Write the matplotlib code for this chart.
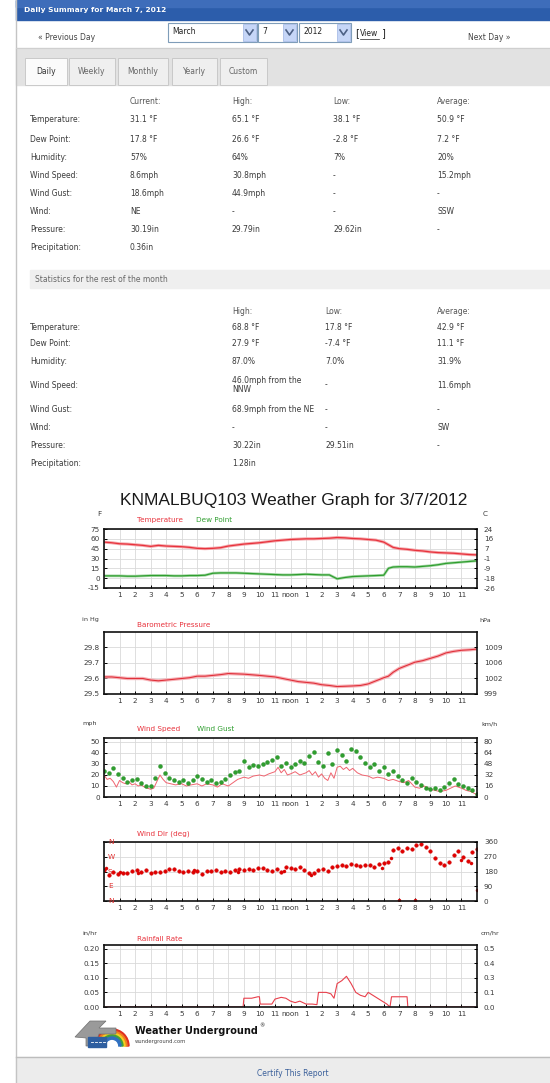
import matplotlib
matplotlib.use('Agg')
import matplotlib.pyplot as plt
from matplotlib.patches import Rectangle, Polygon, Wedge
import numpy as np

plt.rcParams['font.family'] = ['DejaVu Sans']

# ---------------- data ----------------
hour_ticks = list(range(1, 24))
hour_labels = ['1', '2', '3', '4', '5', '6', '7', '8', '9', '10', '11', 'noon',
               '1', '2', '3', '4', '5', '6', '7', '8', '9', '10', '11']

t_hours = [0, 0.5, 1, 1.5, 2, 2.5, 3, 3.5, 4, 4.5,
           5, 5.5, 6, 6.5, 7, 7.5, 8, 8.5, 9, 9.5,
           10, 10.5, 11, 11.5, 12, 12.5, 13, 13.5, 14, 14.5,
           15, 15.5, 16, 16.5, 17, 17.5, 18, 18.3, 18.6, 19,
           19.5, 20, 20.5, 21, 21.5, 22, 22.5, 23, 23.5, 24]
temperature = [55, 54, 52.5, 52, 51, 50, 48.5, 50, 49, 48.5,
               48, 47, 45.5, 45, 45.5, 46.5, 49, 50.5, 52, 53,
               54, 55.5, 57, 58, 59, 59.5, 60, 60, 60.5, 61,
               62, 61.5, 60.5, 60, 59, 58, 55, 51, 47, 45,
               44, 42.5, 41.5, 40, 39, 38.5, 38, 37, 36, 35.5]
dew_point = [3.5, 3.5, 3.5, 3, 3, 3.5, 4, 4, 4, 3.5,
             3.5, 4, 4, 4.5, 7.5, 8, 8, 8, 7.5, 7,
             6.5, 6, 5.5, 5, 5, 5.5, 6, 5.5, 5, 5,
             -1, 1, 2.5, 3, 3.5, 4, 4.5, 15, 17, 17.5,
             17.5, 17, 18, 19, 20.5, 22.5, 23.5, 24.5, 25.5, 26.5]
pressure = [29.61, 29.61, 29.605, 29.60, 29.60, 29.60, 29.59, 29.585, 29.59, 29.595,
            29.60, 29.605, 29.615, 29.615, 29.62, 29.625, 29.632, 29.63, 29.628, 29.624,
            29.62, 29.615, 29.61, 29.60, 29.59, 29.58, 29.575, 29.57, 29.56, 29.555,
            29.548, 29.55, 29.552, 29.555, 29.565, 29.585, 29.605, 29.615, 29.64, 29.665,
            29.685, 29.705, 29.715, 29.73, 29.745, 29.765, 29.775, 29.782, 29.785, 29.79]

ws_hours = [0, 0.2, 0.4, 0.6, 0.8, 1.0, 1.2, 1.4, 1.6, 1.8,
            2.0, 2.2, 2.4, 2.6, 2.8, 3.0, 3.2, 3.4, 3.6, 3.8,
            4.0, 4.3, 4.6, 5.0, 5.3, 5.6, 6.0, 6.3, 6.6, 7.0,
            7.3, 7.6, 8.0, 8.3, 8.6, 9.0, 9.3, 9.6, 10.0, 10.3,
            10.6, 11.0, 11.2, 11.4, 11.6, 11.8, 12.0, 12.3, 12.6, 13.0,
            13.2, 13.4, 13.6, 13.8, 14.0, 14.2, 14.4, 14.6, 14.8, 15.0,
            15.2, 15.4, 15.6, 15.8, 16.0, 16.3, 16.6, 17.0, 17.3, 17.6,
            18.0, 18.3, 18.6, 19.0, 19.3, 19.6, 20.0, 20.3, 20.6, 21.0,
            21.3, 21.6, 22.0, 22.3, 22.6, 23.0, 23.3, 23.6, 24.0]
wind_speed = [20, 16, 17, 14, 9, 15, 13, 12, 14, 11,
              12, 10, 11, 9, 8, 7, 8, 14, 20, 16,
              13, 12, 11, 12, 10, 11, 12, 10, 12, 11,
              9, 12, 10, 13, 16, 18, 17, 19, 20, 19,
              21, 23, 27, 22, 25, 20, 21, 23, 20, 22,
              24, 20, 23, 18, 21, 17, 15, 22, 17, 27,
              28, 25, 27, 24, 26, 22, 20, 19, 17, 18,
              17, 15, 16, 14, 13, 15, 9, 8, 10, 7,
              6, 5, 6, 8, 10, 8, 6, 5, 2]

g_hours = [0.0, 0.3, 0.6, 0.9, 1.2, 1.5, 1.8, 2.1, 2.4, 2.7,
           3.0, 3.3, 3.6, 3.9, 4.2, 4.5, 4.8, 5.1, 5.4, 5.7,
           6.0, 6.3, 6.6, 6.9, 7.2, 7.5, 7.8, 8.1, 8.4, 8.7,
           9.0, 9.3, 9.6, 9.9, 10.2, 10.5, 10.8, 11.1, 11.4, 11.7,
           12.0, 12.3, 12.6, 12.9, 13.2, 13.5, 13.8, 14.1, 14.4, 14.7,
           15.0, 15.3, 15.6, 15.9, 16.2, 16.5, 16.8, 17.1, 17.4, 17.7,
           18.0, 18.3, 18.6, 18.9, 19.2, 19.5, 19.8, 20.1, 20.4, 20.7,
           21.0, 21.3, 21.6, 21.9, 22.2, 22.5, 22.8, 23.1, 23.4, 23.7,
           24.0]
wind_gust = [24, 22, 26, 21, 17, 14, 15, 16, 13, 10,
             10, 17, 28, 22, 17, 15, 14, 15, 13, 15,
             19, 16, 14, 15, 13, 14, 16, 20, 23, 24,
             33, 27, 29, 28, 30, 32, 34, 36, 28, 31,
             27, 30, 33, 31, 37, 41, 32, 28, 40, 30,
             43, 38, 33, 44, 42, 36, 31, 27, 30, 24,
             27, 21, 24, 19, 15, 13, 17, 14, 11, 8,
             7, 8, 6, 9, 13, 16, 12, 10, 8, 6,
             3]
wind_dir = [187, 160, 177, 165, 170, 168, 183, 187, 178, 190,
            173, 176, 180, 184, 195, 198, 182, 180, 185, 178,
            184, 165, 186, 183, 188, 178, 186, 180, 190, 193,
            188, 198, 192, 203, 200, 190, 185, 198, 176, 205,
            200, 196, 208, 192, 168, 172, 190, 196, 184, 205,
            216, 222, 212, 226, 220, 214, 218, 222, 210, 226,
            230, 240, 312, 322, 305, 325, 318, 340, 348, 330,
            305, 262, 232, 218, 240, 280, 305, 270, 245, 300,
            320]
dir_extra_hours = [0.15, 1.0, 2.2, 5.8, 8.6, 11.6, 13.3, 17.9, 18.45, 19.0, 20.0, 23.0, 23.6, 24.0]
dir_extra_deg = [200, 176, 172, 190, 178, 182, 160, 200, 265, 4, 4, 250, 232, 70]

rain_hours = [0, 8.95, 9.0, 9.5, 9.9, 10.0, 10.05, 10.8, 11.0, 11.4,
              11.7, 12.0, 12.3, 12.6, 13.0, 13.4, 13.7, 13.8, 14.3, 14.6,
              14.8, 15.0, 15.3, 15.6, 15.9, 16.2, 16.5, 16.8, 17.0, 17.3,
              17.6, 17.9, 18.2, 18.4, 18.5, 19.5, 19.55, 24]
rain_rate = [0, 0, 0.03, 0.03, 0.035, 0.035, 0.01, 0.01, 0.027, 0.033,
             0.03, 0.02, 0.015, 0.02, 0.01, 0.01, 0.008, 0.05, 0.05, 0.045,
             0.03, 0.08, 0.09, 0.105, 0.08, 0.05, 0.04, 0.035, 0.05, 0.04,
             0.03, 0.02, 0.01, 0, 0.035, 0.035, 0, 0]

temp_ticks = [75, 60, 45, 30, 15, 0, -15]
temp_right = ['24', '16', '7', '-1', '-9', '-18', '-26']
pres_ticks = [29.8, 29.7, 29.6, 29.5]
pres_right = ['1009', '1006', '1002', '999']
wind_ticks = [50, 40, 30, 20, 10, 0]
wind_right = ['80', '64', '48', '32', '16', '0']
dir_ticks = [360, 270, 180, 90, 0]
dir_right = ['360', '270', '180', '90', '0']
dir_left = ['N', 'W', 'S', 'E', 'N']
rain_ticks = [0.20, 0.15, 0.10, 0.05, 0.00]
rain_right = ['0.5', '0.4', '0.3', '0.1', '0.0']

t1_header = ['Current:', 'High:', 'Low:', 'Average:']
t1_labels = ['Temperature:', 'Dew Point:', 'Humidity:', 'Wind Speed:', 'Wind Gust:',
             'Wind:', 'Pressure:', 'Precipitation:']
t1_current = ['31.1 °F', '17.8 °F', '57%', '8.6mph', '18.6mph', 'NE', '30.19in', '0.36in']
t1_high = ['65.1 °F', '26.6 °F', '64%', '30.8mph', '44.9mph', '-', '29.79in', '']
t1_low = ['38.1 °F', '-2.8 °F', '7%', '-', '-', '-', '29.62in', '']
t1_avg = ['50.9 °F', '7.2 °F', '20%', '15.2mph', '-', 'SSW', '-', '']

t2_header = ['High:', 'Low:', 'Average:']
t2_high = ['68.8 °F', '27.9 °F', '87.0%', '46.0mph from the\nNNW', '68.9mph from the NE',
           '-', '30.22in', '1.28in']
t2_low = ['17.8 °F', '-7.4 °F', '7.0%', '-', '-', '-', '29.51in', '']
t2_avg = ['42.9 °F', '11.1 °F', '31.9%', '11.6mph', '-', 'SW', '-', '']

# ---------------- figure ----------------
W, H = 550, 1083
fig = plt.figure(figsize=(5.5, 10.83), dpi=100)
bg = fig.add_axes([0, 0, 1, 1])
bg.set_xlim(0, W)
bg.set_ylim(H, 0)
bg.axis('off')

TXT = '#3a3a3a'
FS = 5.5


def T(x, y, s, **kw):
    d = dict(va='center', ha='left', fontsize=FS, color=TXT)
    d.update(kw)
    bg.text(x, y, s, **d)


# page border
bg.plot([16, 16], [0, H], color='#c4c4c4', lw=1)

# header bar
bg.add_patch(Rectangle((16, 0), 534, 20, color='#2c5dab'))
bg.add_patch(Rectangle((16, 0), 534, 7, color='#3e6dba'))
T(24, 10, 'Daily Summary for March 7, 2012', color='white', fontweight='bold', fontsize=5.4)

# navigation row
T(38, 38, '« Previous Day', color='#444444')
T(468, 38, 'Next Day »', color='#444444')
for (x0, x1, label) in [(168, 257, 'March'), (258, 297, '7'), (299, 351, '2012')]:
    bg.add_patch(Rectangle((x0, 23), x1 - x0, 19, facecolor='white', edgecolor='#7f9db9', lw=0.8))
    bg.add_patch(Rectangle((x1 - 14, 24), 13, 17, facecolor='#c6d6f7', edgecolor='#a9bde8', lw=0.6))
    bg.plot([x1 - 11, x1 - 7.5, x1 - 4], [30, 35, 30], color='#4d6185', lw=1.2)
    T(x0 + 4, 32, label, color='#222222')
T(355, 33, '[', color='#222222', fontsize=7)
T(360, 34, 'View', color='#222222')
bg.plot([360, 379], [38.5, 38.5], color='#222222', lw=0.5)
T(381, 33, ']', color='#222222', fontsize=7)

# tab band
bg.add_patch(Rectangle((16, 48), 534, 37, color='#e2e2e2'))
bg.plot([16, 550], [48, 48], color='#cfcfcf', lw=0.8)
tabs = [(25, 67, 'Daily'), (69, 115, 'Weekly'), (118, 168, 'Monthly'), (172, 217, 'Yearly'), (220, 267, 'Custom')]
for i, (x0, x1, lab) in enumerate(tabs):
    fc = '#fbfbfb' if i == 0 else '#efefef'
    bg.add_patch(Rectangle((x0, 58), x1 - x0, 27, facecolor=fc, edgecolor='#c9c9c9', lw=0.7))
    T((x0 + x1) / 2, 72, lab, ha='center', color='#333333' if i == 0 else '#666666')

# table 1
c1 = [130, 232, 333, 437]
for x, h in zip(c1, t1_header):
    T(x, 102, h, color='#555555')
rows1 = [120, 139, 157, 176, 194, 212, 230, 247]
for i, y in enumerate(rows1):
    T(30, y, t1_labels[i])
    for x, col in zip(c1, [t1_current, t1_high, t1_low, t1_avg]):
        if col[i]:
            T(x, y, col[i])

# statistics band
bg.add_patch(Rectangle((30, 270), 520, 18, color='#efefef'))
T(35, 279, 'Statistics for the rest of the month', color='#666666')
c2 = [232, 325, 437]
for x, h in zip(c2, t2_header):
    T(x, 312, h, color='#555555')
rows2 = [327, 344, 362, 385, 410, 428, 446, 464]
for i, y in enumerate(rows2):
    T(30, y, t1_labels[i])
    for x, col in zip(c2, [t2_high, t2_low, t2_avg]):
        if col[i]:
            T(x, y, col[i], linespacing=1.05)

# graph title
bg.text(294, 500, 'KNMALBUQ103 Weather Graph for 3/7/2012', ha='center', va='center',
        fontsize=12.5, color='#1a1a1a', family='Liberation Sans')

RED = '#e8323c'
GREEN = '#2f9e2f'
GFS = 5.2


def panel(y0, y1, ylim, ticks, left_labels, right_labels):
    ax = fig.add_axes([104 / W, 1 - y1 / H, (477 - 104) / W, (y1 - y0) / H])
    ax.set_xlim(0, 24)
    ax.set_ylim(*ylim)
    ax.set_xticks(list(range(0, 25)), minor=True)
    ax.set_xticks(hour_ticks)
    ax.set_xticklabels(hour_labels, fontsize=GFS, color=TXT)
    ax.set_yticks(ticks)
    if left_labels is None:
        ax.set_yticklabels([])
    else:
        ax.set_yticklabels(left_labels, fontsize=GFS, color=TXT)
    ax.grid(True, which='both', axis='x', color='#d9d9d9', lw=0.6)
    ax.grid(True, which='major', axis='y', color='#d9d9d9', lw=0.6)
    ax.tick_params(axis='both', which='major', direction='in', length=2.5, width=0.7, pad=3)
    ax.tick_params(axis='x', which='minor', length=0)
    for s in ax.spines.values():
        s.set_color('#111111')
        s.set_linewidth(1.2)
    ax2 = ax.twinx()
    ax2.set_ylim(*ylim)
    ax2.set_yticks(ticks)
    ax2.set_yticklabels(right_labels, fontsize=GFS, color=TXT)
    ax2.tick_params(axis='y', direction='in', length=2.5, width=0.7, pad=5)
    for s in ax2.spines.values():
        s.set_visible(False)
    ax.set_axisbelow(True)
    return ax


# temperature
ax = panel(529, 588, (-15, 75), temp_ticks, [str(v) for v in temp_ticks], temp_right)
ax.plot(t_hours, temperature, color='#f4a7ab', lw=2.2)
ax.plot(t_hours, temperature, color=RED, lw=0.9)
ax.plot(t_hours, dew_point, color='#a8d8a8', lw=2.0)
ax.plot(t_hours, dew_point, color=GREEN, lw=0.9)
T(97, 514, 'F', fontsize=GFS)
T(483, 514, 'C', fontsize=GFS)
T(137, 520, 'Temperature', color=RED, fontsize=GFS)
T(196, 520, 'Dew Point', color=GREEN, fontsize=GFS)

# pressure
ax = panel(632, 694, (29.5, 29.9), pres_ticks, ['29.8', '29.7', '29.6', '29.5'], pres_right)
ax.plot(t_hours, pressure, color='#f6b3b8', lw=2.4)
ax.plot(t_hours, pressure, color='#e0303a', lw=0.8)
T(82, 620, 'in Hg', fontsize=4.6)
T(479, 620, 'hPa', fontsize=4.6)
T(137, 625, 'Barometric Pressure', color=RED, fontsize=GFS)

# wind
ax = panel(738, 797, (0, 53.6), wind_ticks, [str(v) for v in wind_ticks], wind_right)
ax.plot(ws_hours, wind_speed, color='#f06470', lw=0.7)
ax.plot(g_hours, wind_gust, ls='none', marker='o', ms=2.8, mfc=GREEN, mec='#1f8a1f', mew=0.3)
T(82, 724, 'mph', fontsize=4.6)
T(481, 724, 'km/h', fontsize=4.6)
T(137, 729, 'Wind Speed', color=RED, fontsize=GFS)
T(197, 729, 'Wind Gust', color=GREEN, fontsize=GFS)

# wind direction
ax = panel(842, 901, (0, 360), dir_ticks, None, dir_right)
ax.plot(g_hours, wind_dir, ls='none', marker='o', ms=2.6, mfc='#e00000', mec='#d00000', mew=0.3)
ax.plot(dir_extra_hours, dir_extra_deg, ls='none', marker='o', ms=2.2, mfc='#e00000', mec='#d00000', mew=0.3)
for v, lab in zip(dir_ticks, dir_left):
    ax.text(0.25, v, lab, color='#e03030', fontsize=GFS, va='center', ha='left')
T(137, 834, 'Wind Dir (deg)', color=RED, fontsize=GFS)

# rain
ax = panel(945, 1007, (0, 0.212), rain_ticks, ['0.20', '0.15', '0.10', '0.05', '0.00'], rain_right)
ax.plot(rain_hours, rain_rate, color='#e8404c', lw=0.8)
T(82, 933, 'in/hr', fontsize=4.6)
T(481, 933, 'cm/hr', fontsize=4.6)
T(137, 939, 'Rainfall Rate', color=RED, fontsize=GFS)

# logo
for r, c in zip([17, 15, 13, 11, 9], ['#e03020', '#f08020', '#f5d020', '#40a040', '#3070c0']):
    bg.add_patch(Wedge((112, 1046), r, 180, 360, width=2.2, color=c))
bg.add_patch(Polygon([(75, 1037), (90, 1021), (106, 1021), (99, 1028), (116, 1028),
                      (116, 1034), (99, 1034), (95, 1046), (86, 1046), (86, 1038)],
                     closed=True, facecolor='#9a9a9a', edgecolor='#6f6f6f', lw=0.5))
bg.add_patch(Rectangle((88, 1037), 18, 10, color='#2f5fa0'))
for xx in [91, 95, 99, 103]:
    bg.plot([xx, xx + 2], [1042, 1042], color='white', lw=0.6)
T(135, 1031, 'Weather Underground', fontweight='bold', fontsize=7.0, color='#111111')
T(259, 1026, '®', fontsize=3.8, color='#111111')
T(135, 1042, 'wunderground.com', fontsize=3.8, color='#444444')

# footer
bg.add_patch(Rectangle((16, 1057), 534, 26, color='#ececec'))
bg.plot([16, 550], [1057, 1057], color='#bdbdbd', lw=1)
T(293, 1073, 'Certify This Report', ha='center', color='#3a5f9a')

fig.savefig('out.png', dpi=100)
